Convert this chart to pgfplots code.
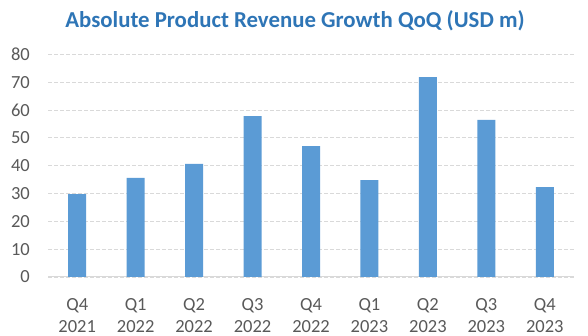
\documentclass[border=0pt]{standalone}
\usepackage{pgfplots}
\pgfplotsset{compat=1.18}
\usepackage{fontspec}
\setmainfont{Carlito}
\definecolor{barblue}{HTML}{5B9BD5}
\definecolor{titleblue}{HTML}{2E75B6}
\definecolor{ticktext}{HTML}{595959}
\definecolor{gridgray}{HTML}{D9D9D9}
\begin{document}
\begin{tikzpicture}
\useasboundingbox (0,0) rectangle (588pt,336pt);
\begin{axis}[
 at={(48pt,59pt)}, anchor=south west,
 scale only axis, width=526pt, height=222.7pt,
 xmin=-0.5, xmax=8.5, ymin=0, ymax=80,
 ytick={0,10,...,80},
 xtick={0,...,8},
 xticklabels={{Q4\\2021},{Q1\\2022},{Q2\\2022},{Q3\\2022},{Q4\\2022},{Q1\\2023},{Q2\\2023},{Q3\\2023},{Q4\\2023}},
 axis x line=bottom, axis y line=left,
 x axis line style={draw=gridgray, line width=1pt, -},
 y axis line style={draw=none},
 major tick length=0pt,
 ymajorgrids, major grid style={gridgray, line width=0.8pt, dash pattern=on 4pt off 2pt},
 tick label style={font=\fontsize{18.5}{22.5}\selectfont, text=ticktext},
 /pgf/number format/assume math mode=true,
 yticklabel style={anchor=east, inner sep=0pt, xshift=-18pt},
 xticklabel style={anchor=north, inner sep=0pt, yshift=-21pt, align=center},
]
\addplot[ybar, bar width=18pt, fill=barblue, draw=none] coordinates {
 (0,29.8) (1,35.6) (2,40.6) (3,57.8) (4,47.0) (5,34.8) (6,71.8) (7,56.4) (8,32.3)};
\end{axis}
\node[anchor=base, font=\fontsize{22.8}{27}\selectfont\bfseries, text=titleblue] at (295pt,308pt) {Absolute Product Revenue Growth QoQ (USD m)};
\end{tikzpicture}
\end{document}
